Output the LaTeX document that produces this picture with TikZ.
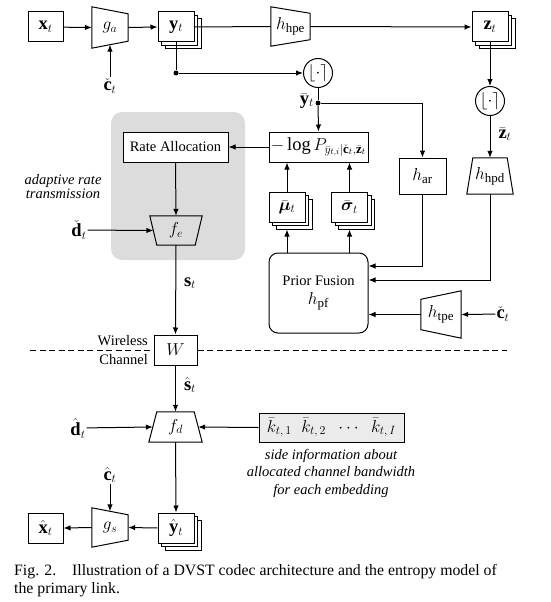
\documentclass[tikz,border=0pt]{standalone}
\usepackage{amsmath,bm}
\usepackage{fontspec}
\setmainfont{Liberation Serif}
\usetikzlibrary{arrows.meta,calc,shadows}
\definecolor{regiongray}{HTML}{DCDCDC}
\definecolor{kgray}{HTML}{EBEBEB}
\newcommand{\txtsize}{\fontsize{14.5}{17}\selectfont}
\begin{document}
\begin{tikzpicture}[x=1pt,y=-1pt,
  every node/.style={font=\fontsize{18.5}{20}\selectfont},
  txt/.style={font=\txtsize},
  lw/.style={line width=1pt},
  arr/.style={lw,-{Latex[length=7pt,width=5.5pt]}},
  box/.style={draw,lw,fill=white,inner sep=0pt,minimum width=35pt,minimum height=30pt},
  stackbox/.style={box,
    general shadow={shadow xshift=7pt,shadow yshift=-7pt,draw,fill=white,line width=1pt},
    general shadow={shadow xshift=3.5pt,shadow yshift=-3.5pt,draw,fill=white,line width=1pt}},
  tz/.style={inner sep=0pt},
  circ/.style={draw,lw,circle,minimum size=29pt,inner sep=0pt},
  dot/.style={circle,fill=black,inner sep=0pt,minimum size=5pt},
  lbl/.style={inner sep=1pt},
  itl/.style={font=\fontsize{14.5}{13.5}\selectfont\itshape,align=center,inner sep=0pt},
]
\useasboundingbox (0,0) rectangle (550,602);

% gray region
\fill[regiongray,rounded corners=11pt] (111,112) rectangle (245,260);

% ---- top row
\node[box] (xt) at (45.5,27) {$\mathbf{x}_t$};
\node[tz,minimum width=36pt,minimum height=41pt] (ga) at (110,27.5) {$g_a$};
\draw[lw] (ga.north west) -- ($(ga.north east)+(0,7)$) -- ($(ga.south east)+(0,-7)$) -- (ga.south west) -- cycle;
\node[lbl] (ct1) at (110,86) {$\check{\mathbf{c}}_t$};
\node[stackbox,minimum width=36pt] (yt) at (176,27) {$\mathbf{y}_t$};
\node[tz,minimum width=39pt,minimum height=39pt] (hhpe) at (290.5,26.5) {$h_{\mathrm{hpe}}$};
\draw[lw] (hhpe.north west) -- ($(hhpe.north east)+(0,6.5)$) -- ($(hhpe.south east)+(0,-6.5)$) -- (hhpe.south west) -- cycle;
\node[stackbox,minimum width=36pt] (zt) at (490,27) {$\mathbf{z}_t$};

\draw[arr] (xt) -- (ga.west);
\draw[arr] (ga.east) -- (yt.west);
\draw[arr] (ct1) -- ($(ga.south)+(0,-3.5)$);
\draw[lw] (yt.east) -- (hhpe.west);
\draw[arr] (hhpe.east) -- (zt.west);

% ---- quantisers
\node[circ] (c1) at (318,73) {$\lfloor\cdot\rceil$};
\node[circ] (c2) at (490,101) {$\lfloor\cdot\rceil$};
\node[dot] (j1) at (176,73) {};
\node[dot] (j2) at (318,103) {};
\node[anchor=east,inner sep=0pt] (ybl) at (314,101) {$\bar{\mathbf{y}}_t$};

\draw[lw] (yt.south) -- (j1);
\draw[arr] (j1) -- (c1.west);
\draw[lw] (c1.south) -- (j2);
\draw[arr] (zt.south) -- (c2.north);

% ---- entropy model
\node[box,minimum width=99pt] (logp) at (318.5,147) {$-\log P_{\bar{y}_{t,i}|\check{\mathbf{c}}_t,\bar{\mathbf{z}}_t}$};
\node[box,txt,minimum width=105pt] (ra) at (175.5,147) {Rate Allocation};
\node[box,minimum width=47pt,minimum height=36pt] (har) at (422.5,176) {$h_{\mathrm{ar}}$};
\node[tz,minimum width=46pt,minimum height=36pt] (hhpd) at (490,176) {$h_{\mathrm{hpd}}$};
\draw[lw] ($(hhpd.north west)+(6,0)$) -- ($(hhpd.north east)+(-6,0)$) -- (hhpd.south east) -- (hhpd.south west) -- cycle;
\node[lbl] (zbl) at (505,134) {$\bar{\mathbf{z}}_t$};
\node[stackbox,minimum width=36pt] (mu) at (287,207) {$\bar{\bm{\mu}}_t$};
\node[stackbox,minimum width=36pt] (sg) at (349.5,207) {$\bar{\bm{\sigma}}_t$};
\node[draw,lw,fill=white,rounded corners=9pt,minimum width=99pt,minimum height=80pt,align=center,inner sep=0pt] (pf) at (318.5,293) {{\txtsize Prior Fusion}\\[-1pt]$h_{\mathrm{pf}}$};
\node[tz,minimum width=40pt,minimum height=47pt] (htpe) at (441,314.5) {$h_{\mathrm{tpe}}$};
\draw[lw] ($(htpe.north west)+(0,8.5)$) -- (htpe.north east) -- (htpe.south east) -- ($(htpe.south west)+(0,-8.5)$) -- cycle;
\node[lbl] (ct2) at (503,314) {$\check{\mathbf{c}}_t$};

\draw[arr] (j2) -- (logp.north);
\draw[arr] (j2) -| (har.north);
\draw[arr] (c2.south) -- (hhpd.north);
\draw[arr] (logp.west) -- (ra.east);
\draw[arr] (mu.north) -- (mu.north |- logp.south);
\draw[arr] (sg.north) -- (sg.north |- logp.south);
\draw[arr] (pf.north -| mu) -- ($(mu.south)+(0,7)$);
\draw[arr] (pf.north -| sg) -- ($(sg.south)+(0,7)$);
\draw[arr] (har.south) |- ($(pf.east)+(0,-27)$);
\draw[arr] (hhpd.south) |- ($(pf.east)+(0,-13)$);
\draw[arr] (htpe.west) -- (htpe.west -| pf.east);
\draw[arr] (ct2) -- (htpe.east);

% ---- encoder
\node[tz,minimum width=52pt,minimum height=29pt] (fe) at (176,230.5) {$f_e$};
\draw[lw] (fe.north west) -- (fe.north east) -- ($(fe.south east)+(-7,0)$) -- ($(fe.south west)+(7,0)$) -- cycle;
\node[lbl] (dc) at (79,230) {$\check{\mathbf{d}}_t$};
\node[itl] (adapt) at (63,186.5) {adaptive rate\\transmission};
\draw[arr] (ra.south) -- (fe.north);
\draw[arr] (dc) -- ($(fe.west)+(3.5,0)$);

% ---- channel
\node[box,minimum width=43pt] (W) at (175.5,350) {$W$};
\node[lbl] (st) at (190,283) {$\mathbf{s}_t$};
\node[lbl,txt,anchor=east,inner sep=0pt] (wl) at (148,341) {Wireless};
\node[lbl,txt,anchor=east,inner sep=0pt] (ch) at (148,360) {Channel};
\coordinate (dl) at (30,350);
\coordinate (dr) at (507,350);
\draw[line width=0.8pt,dash pattern=on 6pt off 3.5pt] (dl) -- (W.west);
\draw[line width=0.8pt,dash pattern=on 6pt off 3.5pt] (W.east) -- (dr);
\draw[arr] (fe.south) -- (W.north);
\node[lbl] (sh) at (190,385) {$\hat{\mathbf{s}}_t$};

% ---- decoder
\node[tz,minimum width=53pt,minimum height=30pt] (fd) at (175.5,427) {$f_d$};
\draw[lw] ($(fd.north west)+(8,0)$) -- ($(fd.north east)+(-8,0)$) -- (fd.south east) -- (fd.south west) -- cycle;
\node[lbl] (dh) at (78,428) {$\hat{\mathbf{d}}_t$};
\node[draw,lw,fill=kgray,minimum width=145pt,minimum height=29pt,inner sep=0pt] (kb) at (331.5,427.5) {$\bar{k}_{t,\,1}\;\;\bar{k}_{t,\,2}\;\;\cdots\;\;\bar{k}_{t,\,I}$};
\node[itl,font=\fontsize{14.5}{17.5}\selectfont\itshape] (side) at (331,473) {side information about\\allocated channel bandwidth\\for each embedding};
\draw[arr] (W.south) -- (fd.north);
\draw[arr] (dh) -- ($(fd.west)+(4,0)$);
\draw[arr] (kb.west) -- ($(fd.east)+(-4,0)$);

\node[stackbox,minimum width=36pt] (yh) at (176,528) {$\hat{\mathbf{y}}_t$};
\node[tz,minimum width=36pt,minimum height=39pt] (gs) at (110,527.5) {$g_s$};
\draw[lw] (gs.north west) -- ($(gs.north east)+(0,7)$) -- ($(gs.south east)+(0,-7)$) -- (gs.south west) -- cycle;
\node[lbl] (chh) at (110,475) {$\hat{\mathbf{c}}_t$};
\node[box] (xh) at (45.5,528) {$\hat{\mathbf{x}}_t$};
\draw[arr] (fd.south) -- (yh.north);
\draw[arr] (chh) -- ($(gs.north)+(0,3.5)$);
\draw[arr] (yh.west) -- (gs.east);
\draw[arr] (gs.west) -- (xh.east);

% ---- caption
\node[anchor=west,inner sep=0pt,font=\fontsize{15.8}{18}\selectfont] (cap1) at (14,572) {Fig. 2.\hspace{1em}Illustration of a DVST codec architecture and the entropy model of};
\node[anchor=west,inner sep=0pt,font=\fontsize{15.8}{18}\selectfont] (cap2) at (14,590) {the primary link.};
\end{tikzpicture}
\end{document}
